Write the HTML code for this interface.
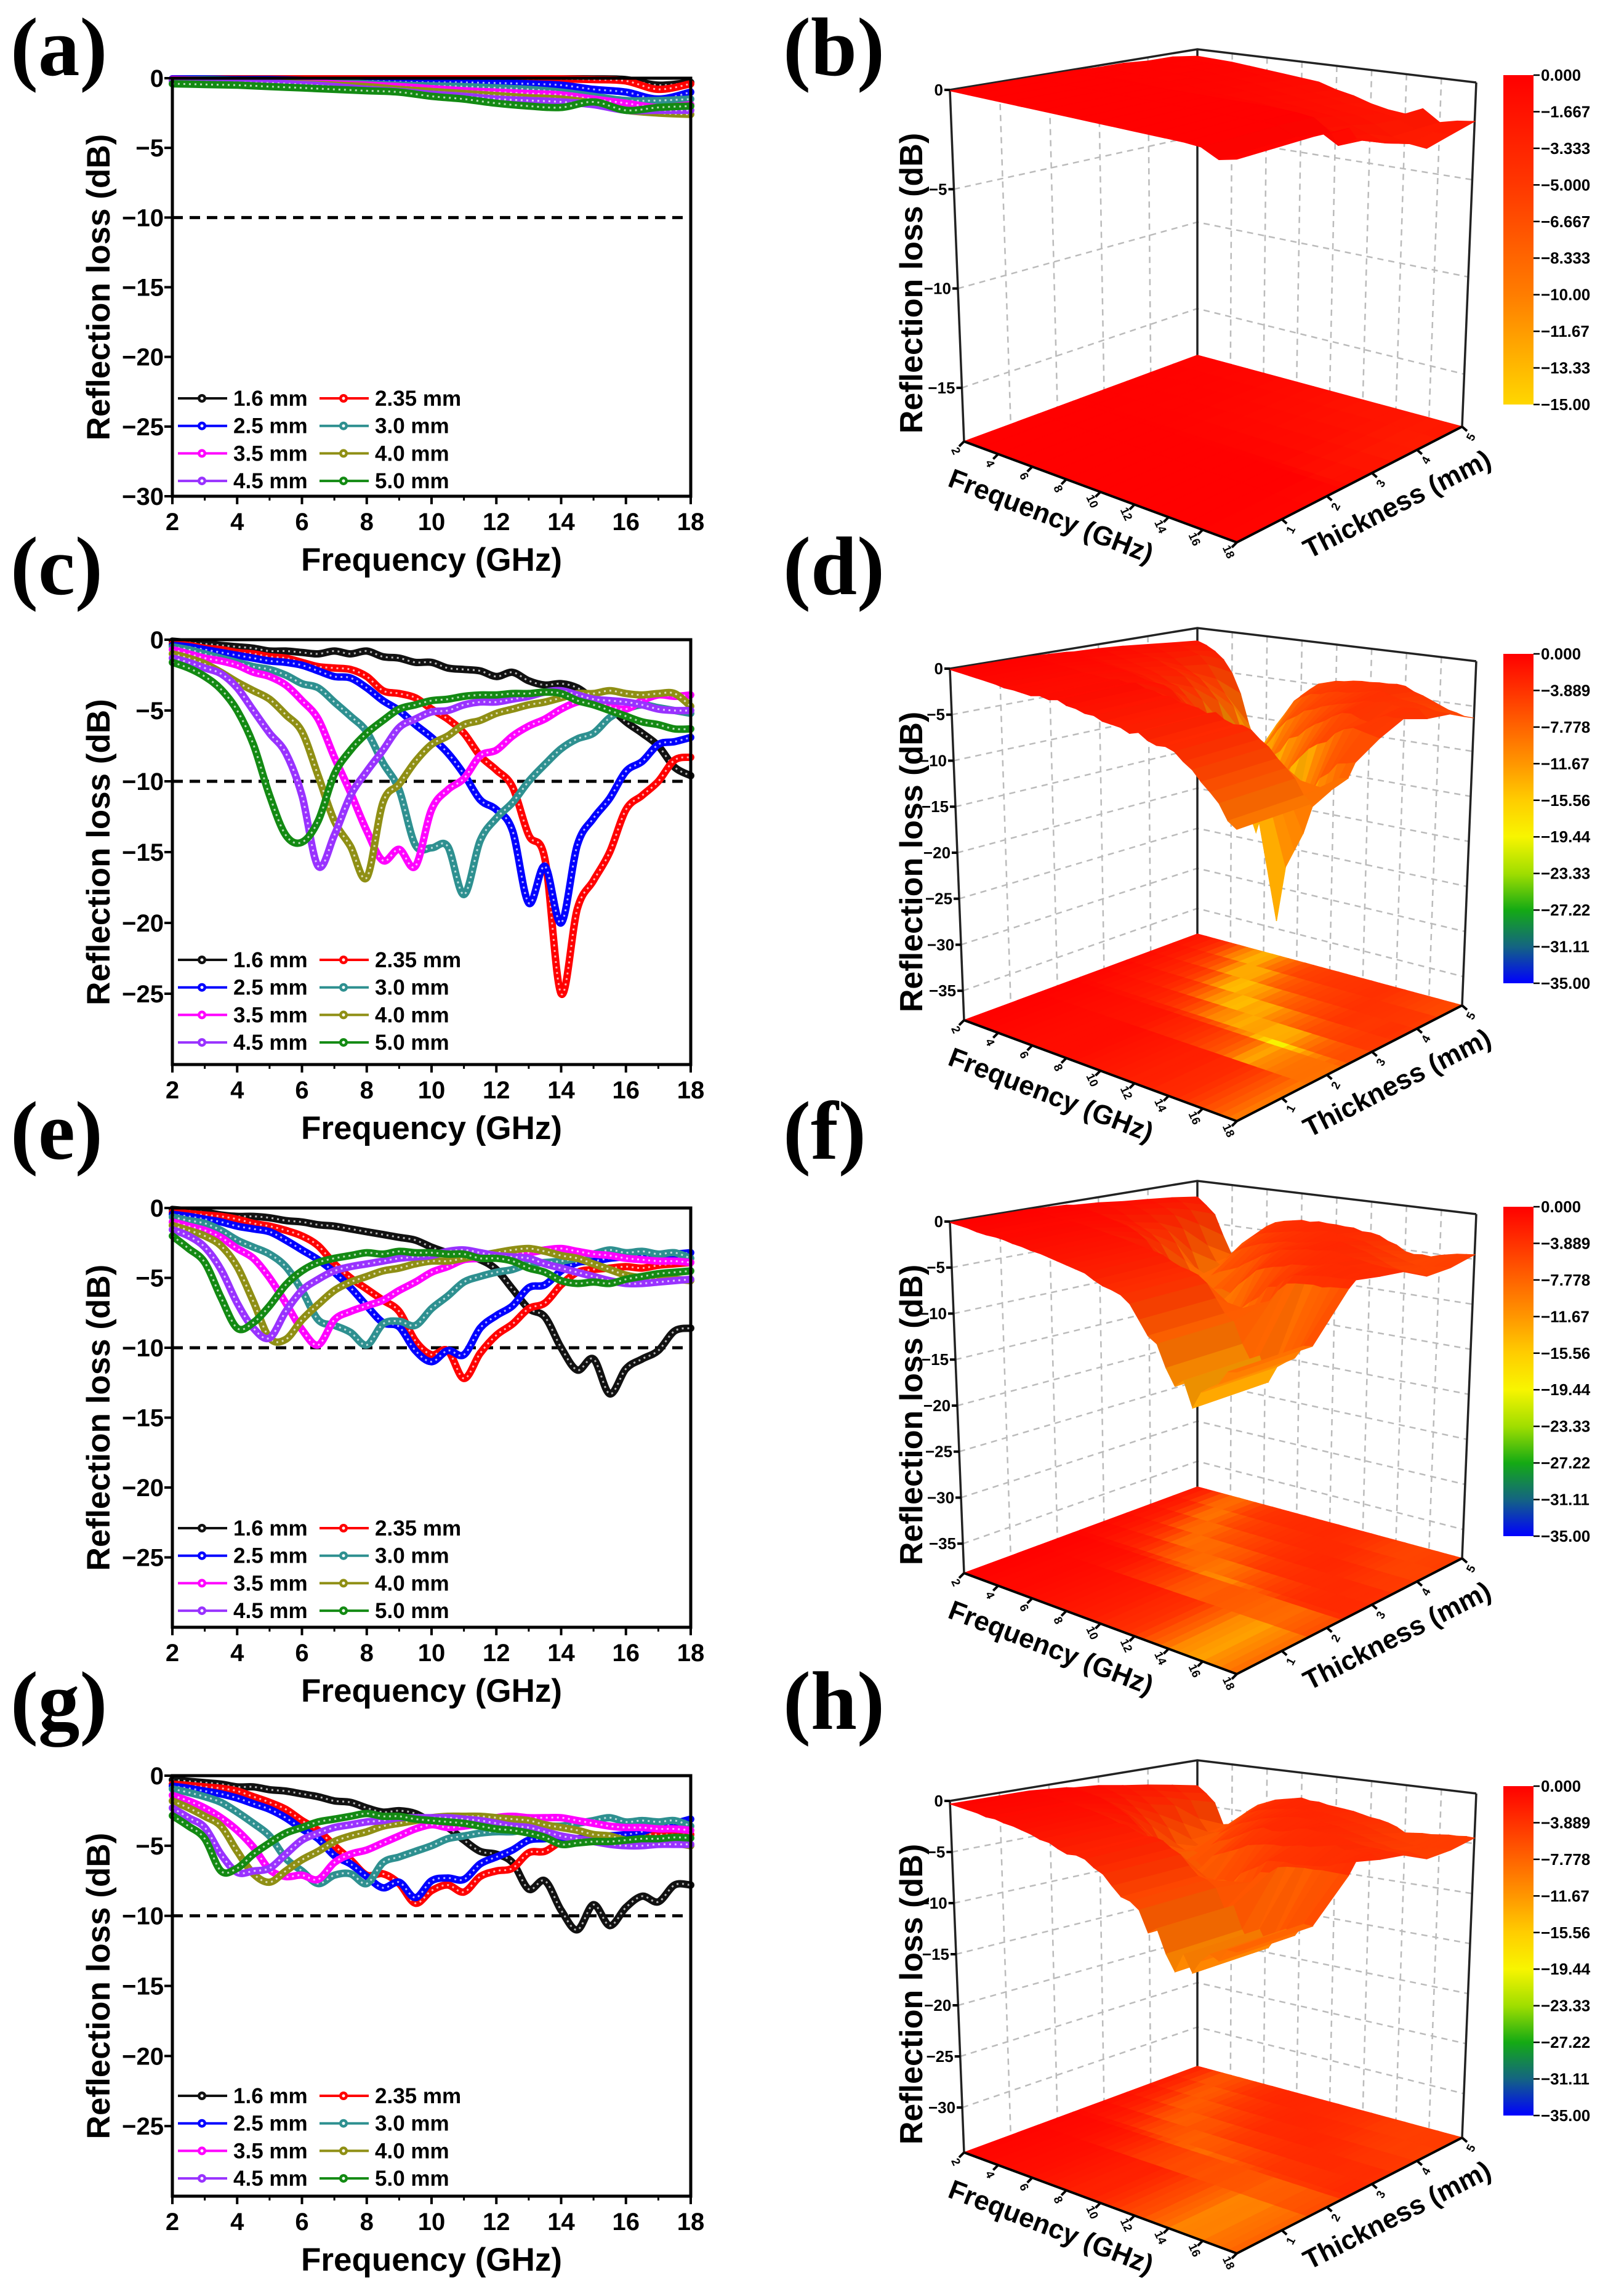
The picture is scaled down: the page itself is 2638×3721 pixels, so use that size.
<!DOCTYPE html>
<html><head><meta charset="utf-8"><title>Reflection loss</title>
<style>
html,body{margin:0;padding:0;background:#fff;}
svg{display:block;}
text{font-family:"Liberation Sans",Arial,sans-serif;font-weight:bold;fill:#000;}
.plab{font-family:"Liberation Serif","Times New Roman",serif;font-size:135px;font-weight:bold;}
</style></head>
<body>
<svg id="fig" width="2638" height="3721" viewBox="0 0 2638 3721">
<rect x="0" y="0" width="2638" height="3721" fill="#fff"/>
<text class="plab" x="17" y="122">(a)</text>
<text class="plab" x="1272" y="122">(b)</text>
<text class="plab" x="17" y="965">(c)</text>
<text class="plab" x="1272" y="965">(d)</text>
<text class="plab" x="17" y="1882">(e)</text>
<text class="plab" x="1272" y="1882">(f)</text>
<text class="plab" x="17" y="2808">(g)</text>
<text class="plab" x="1272" y="2808">(h)</text>
</svg>
<script>
const freqsHalf = [2,2.5,3,3.5,4,4.5,5,5.5,6,6.5,7,7.5,8,8.5,9,9.5,10,10.5,11,11.5,12,12.5,13,13.5,14,14.5,15,15.5,16,16.5,17,17.5,18];
const freqsWhole = [2,3,4,5,6,7,8,9,10,11,12,13,14,15,16,17,18];
const thicknessLabels = ['1.6 mm','2.35 mm','2.5 mm','3.0 mm','3.5 mm','4.0 mm','4.5 mm','5.0 mm'];
const thicknessValues = [1.6,2.35,2.5,3.0,3.5,4.0,4.5,5.0];
const seriesColors = ['#111111','#ff0000','#0000ff','#2e9090','#ff00ff','#8f8f14','#9932ff','#138a13'];
const xTicks = [2,4,6,8,10,12,14,16,18];
const xMinorTicks = [3,5,7,9,11,13,15,17];
const yTicksA = [0,-5,-10,-15,-20,-25,-30];
const yTicksCEG = [0,-5,-10,-15,-20,-25];
const cbLabels15 = ['0.000','\u22121.667','\u22123.333','\u22125.000','\u22126.667','\u22128.333','\u221210.00','\u221211.67','\u221213.33','\u221215.00'];
const cbLabels35 = ['0.000','\u22123.889','\u22127.778','\u221211.67','\u221215.56','\u221219.44','\u221223.33','\u221227.22','\u221231.11','\u221235.00'];

// panel (a) — 1 GHz steps
const a16  = [-0.05,-0.05,-0.05,-0.05,-0.05,-0.05,-0.05,-0.05,-0.05,-0.05,-0.05,-0.05,-0.05,-0.05,-0.1,-0.5,-0.3];
const a235 = [-0.05,-0.05,-0.05,-0.05,-0.05,-0.05,-0.05,-0.05,-0.05,-0.05,-0.05,-0.05,-0.05,-0.1,-0.2,-0.8,-0.4];
const a25  = [-0.05,-0.05,-0.1,-0.1,-0.15,-0.2,-0.2,-0.25,-0.3,-0.3,-0.35,-0.4,-0.5,-0.8,-1.0,-1.5,-1.0];
const a30  = [-0.1,-0.1,-0.15,-0.2,-0.25,-0.3,-0.4,-0.5,-0.55,-0.6,-0.7,-0.8,-1.0,-1.3,-1.6,-1.6,-1.5];
const a35  = [-0.1,-0.15,-0.2,-0.25,-0.3,-0.4,-0.5,-0.6,-0.75,-0.9,-1.0,-1.1,-1.2,-1.5,-1.8,-2.1,-1.9];
const a40  = [-0.2,-0.2,-0.25,-0.3,-0.4,-0.5,-0.6,-0.8,-0.95,-1.1,-1.25,-1.4,-1.5,-1.8,-2.3,-2.5,-2.6];
const a45  = [-0.2,-0.25,-0.3,-0.35,-0.45,-0.6,-0.8,-0.95,-1.15,-1.3,-1.5,-1.6,-1.7,-1.9,-2.3,-2.3,-2.3];
const a50  = [-0.4,-0.45,-0.5,-0.6,-0.7,-0.8,-0.9,-1.0,-1.3,-1.5,-1.8,-2.0,-2.1,-1.7,-2.3,-2.1,-2.0];

// panel (c)
const c16  = [-0.1,-0.2,-0.3,-0.4,-0.5,-0.6,-0.8,-0.8,-0.9,-1.0,-0.8,-1.0,-0.8,-1.2,-1.3,-1.6,-1.6,-2.0,-2.1,-2.2,-2.6,-2.3,-2.9,-3.2,-3.1,-3.4,-4.2,-4.8,-5.8,-6.6,-7.5,-9.0,-9.6];
const c235 = [-0.3,-0.4,-0.6,-0.7,-0.9,-1.0,-1.2,-1.3,-1.6,-1.9,-2.0,-2.1,-2.6,-3.6,-3.8,-4.1,-4.9,-5.6,-6.6,-8.2,-9.2,-10.4,-13.8,-15.5,-25.0,-19.0,-17.0,-15.0,-12.0,-11.0,-10.0,-8.5,-8.3];
const c25  = [-0.4,-0.5,-0.7,-0.9,-1.1,-1.3,-1.5,-1.6,-1.8,-2.2,-2.6,-2.7,-3.4,-4.3,-5.0,-6.0,-6.9,-8.0,-9.5,-11.3,-12.0,-13.5,-18.6,-16.0,-20.0,-14.5,-12.6,-11.2,-9.3,-8.6,-7.4,-7.2,-6.9];
const c30  = [-0.5,-0.7,-1.0,-1.3,-1.6,-1.9,-2.1,-2.5,-3.1,-3.4,-4.4,-5.4,-6.5,-8.7,-10.6,-14.5,-14.7,-14.6,-18.0,-14.2,-12.6,-11.5,-10.0,-8.8,-7.7,-7.0,-6.6,-5.5,-4.9,-4.6,-4.8,-5.0,-5.2];
const c35  = [-0.7,-1.0,-1.3,-1.5,-1.8,-2.3,-2.6,-3.2,-4.3,-5.6,-8.3,-10.8,-13.5,-15.6,-14.8,-16.0,-12.0,-10.6,-9.8,-8.2,-7.8,-6.8,-6.1,-5.6,-4.9,-4.4,-4.3,-4.7,-4.9,-4.3,-3.9,-4.0,-3.9];
const c40  = [-1.0,-1.3,-1.7,-2.3,-3.0,-3.6,-4.2,-5.3,-6.5,-9.6,-12.8,-14.6,-16.8,-11.5,-10.2,-8.6,-7.4,-6.8,-6.0,-5.7,-5.2,-4.9,-4.6,-4.4,-4.1,-3.8,-3.8,-3.6,-3.8,-3.9,-3.8,-3.8,-4.7];
const c45  = [-1.3,-1.6,-2.0,-2.4,-3.4,-5.0,-6.6,-8.0,-11.0,-16.0,-13.8,-11.0,-9.3,-7.8,-6.2,-5.6,-5.1,-5.0,-4.6,-4.4,-4.4,-4.2,-4.0,-3.7,-3.6,-3.9,-4.2,-4.3,-4.4,-4.6,-4.9,-5.0,-5.0];
const c50  = [-1.6,-2.0,-2.6,-3.5,-5.0,-7.4,-11.0,-13.8,-14.3,-12.8,-9.5,-7.8,-6.6,-5.7,-4.9,-4.6,-4.3,-4.2,-4.0,-3.9,-3.9,-3.8,-3.8,-3.7,-3.8,-4.3,-4.6,-5.0,-5.4,-5.8,-6.0,-6.3,-6.3];

// panel (e)
const e16  = [-0.1,-0.2,-0.3,-0.5,-0.6,-0.6,-0.7,-0.9,-1.0,-1.2,-1.3,-1.5,-1.7,-1.9,-2.1,-2.3,-2.8,-3.2,-3.4,-3.7,-4.4,-5.8,-7.2,-7.8,-10.0,-11.6,-10.8,-13.3,-11.5,-10.8,-10.2,-8.8,-8.6];
const e235 = [-0.3,-0.4,-0.5,-0.6,-0.8,-1.1,-1.3,-1.6,-2.0,-2.7,-4.0,-5.0,-5.8,-6.6,-7.4,-9.5,-10.5,-10.2,-12.2,-10.4,-9.1,-8.3,-7.2,-6.8,-5.5,-4.6,-4.4,-4.3,-4.2,-4.3,-4.1,-4.0,-3.9];
const e25  = [-0.45,-0.6,-0.8,-1.0,-1.3,-1.5,-1.7,-2.3,-3.0,-3.7,-4.6,-5.7,-7.0,-8.2,-8.5,-10.2,-11.0,-10.2,-10.5,-8.6,-7.7,-7.0,-5.7,-5.5,-4.5,-3.9,-3.8,-3.6,-3.5,-3.4,-3.4,-3.3,-3.2];
const e30  = [-0.65,-0.9,-1.1,-1.6,-2.3,-2.8,-3.3,-4.2,-5.9,-8.0,-8.4,-8.9,-9.8,-8.3,-8.1,-8.4,-7.2,-6.3,-5.3,-4.9,-4.6,-4.4,-4.0,-3.9,-3.8,-3.6,-3.3,-3.0,-3.2,-3.1,-3.3,-3.2,-3.6];
const e35  = [-1.0,-1.3,-1.6,-2.1,-2.9,-3.6,-5.0,-6.8,-8.7,-9.8,-8.0,-7.4,-7.0,-6.6,-5.9,-5.3,-4.6,-4.2,-3.7,-3.6,-3.4,-3.2,-3.2,-3.0,-2.9,-3.1,-3.3,-3.4,-3.6,-3.7,-3.8,-3.8,-3.9];
const e40  = [-1.25,-1.6,-2.0,-2.7,-4.2,-6.7,-9.3,-9.4,-8.0,-6.9,-5.9,-5.3,-4.9,-4.5,-4.3,-4.0,-3.8,-3.8,-3.6,-3.4,-3.2,-3.0,-2.9,-3.1,-3.4,-3.6,-4.0,-4.4,-4.8,-5.0,-5.1,-5.1,-5.2];
const e45  = [-1.55,-2.0,-2.8,-4.4,-6.8,-8.6,-9.3,-7.4,-5.9,-5.1,-4.5,-4.2,-4.0,-3.8,-3.6,-3.5,-3.4,-3.1,-3.0,-3.2,-3.4,-3.5,-3.6,-4.0,-4.3,-4.6,-4.9,-5.2,-5.4,-5.4,-5.3,-5.2,-5.1];
const e50  = [-2.0,-2.9,-3.9,-6.4,-8.6,-8.2,-7.0,-5.5,-4.5,-3.9,-3.6,-3.4,-3.2,-3.3,-3.1,-3.2,-3.2,-3.3,-3.3,-3.6,-3.6,-3.8,-4.3,-4.6,-5.2,-5.4,-5.3,-5.4,-5.1,-4.9,-4.7,-4.6,-4.5];

// panel (g)
const g16  = [-0.3,-0.4,-0.5,-0.6,-0.8,-0.8,-1.0,-1.1,-1.3,-1.5,-1.8,-1.9,-2.3,-2.6,-2.5,-2.7,-3.3,-3.7,-4.6,-5.4,-5.6,-6.2,-8.1,-7.5,-9.6,-11.0,-9.2,-10.7,-9.4,-8.6,-9.0,-7.8,-7.8];
const g235 = [-0.6,-0.7,-0.8,-0.9,-1.1,-1.5,-1.9,-2.4,-3.2,-3.9,-5.0,-6.0,-7.1,-7.0,-7.7,-9.1,-8.2,-7.8,-8.3,-7.2,-6.8,-6.6,-5.5,-5.4,-4.7,-4.5,-4.4,-4.3,-4.3,-4.2,-4.2,-4.2,-4.2];
const g25  = [-0.75,-0.9,-1.1,-1.3,-1.6,-2.0,-2.4,-3.0,-3.8,-4.5,-5.7,-6.3,-7.2,-8.0,-7.6,-8.7,-7.5,-7.3,-7.4,-6.3,-5.8,-5.3,-4.6,-4.5,-4.4,-4.5,-4.4,-4.3,-4.2,-4.0,-3.6,-3.4,-3.1];
const g30  = [-0.95,-1.2,-1.5,-1.9,-2.6,-3.4,-4.3,-5.9,-6.8,-7.7,-7.1,-7.0,-7.7,-6.2,-5.8,-5.4,-5.0,-4.5,-4.3,-4.1,-4.0,-4.0,-3.8,-3.6,-3.6,-3.4,-3.2,-3.0,-3.3,-3.2,-3.3,-3.2,-3.6];
const g35  = [-1.4,-1.8,-2.3,-3.0,-3.9,-5.1,-6.7,-7.2,-7.1,-7.4,-6.2,-5.6,-5.3,-4.8,-4.3,-3.8,-3.5,-3.7,-3.6,-3.4,-3.0,-2.9,-3.0,-3.0,-3.0,-3.2,-3.4,-3.6,-3.7,-3.7,-3.8,-3.8,-3.9];
const g40  = [-1.8,-2.3,-2.9,-3.6,-5.4,-7.0,-7.6,-6.8,-6.0,-5.4,-4.7,-4.3,-4.0,-3.6,-3.4,-3.2,-3.0,-2.9,-2.9,-2.9,-3.0,-3.1,-3.2,-3.5,-3.7,-3.9,-4.2,-4.3,-4.6,-4.6,-4.6,-4.8,-5.0];
const g45  = [-2.3,-3.0,-3.7,-5.6,-6.9,-6.8,-6.6,-5.6,-4.6,-4.1,-3.7,-3.5,-3.3,-3.2,-3.0,-3.0,-3.0,-3.0,-3.1,-3.2,-3.4,-3.6,-3.7,-4.0,-4.3,-4.5,-4.7,-4.9,-5.0,-5.0,-4.9,-4.9,-4.9];
const g50  = [-2.85,-3.6,-4.5,-6.8,-6.6,-5.6,-4.8,-4.1,-3.7,-3.3,-3.1,-2.9,-2.7,-2.9,-2.9,-3.1,-3.2,-3.3,-3.4,-3.6,-3.8,-3.9,-4.1,-4.4,-4.9,-4.8,-4.7,-4.7,-4.6,-4.5,-4.5,-4.4,-4.45];

const panelASeries = [a16,a235,a25,a30,a35,a40,a45,a50];
const panelCSeries = [c16,c235,c25,c30,c35,c40,c45,c50];
const panelESeries = [e16,e235,e25,e30,e35,e40,e45,e50];
const panelGSeries = [g16,g235,g25,g30,g35,g40,g45,g50];

const NS = 'http://www.w3.org/2000/svg';
const svg = document.getElementById('fig');
function mk(tag, parent, attrs){const e=document.createElementNS(NS,tag);for(const k in attrs)e.setAttribute(k,attrs[k]);parent.appendChild(e);return e;}
function fmt(v){return v<0?'\u2212'+Math.abs(v):String(v);}
function smooth(pts){
  let d='M'+pts[0][0].toFixed(1)+','+pts[0][1].toFixed(1);
  for(let i=0;i<pts.length-1;i++){
    const p0=pts[Math.max(0,i-1)],p1=pts[i],p2=pts[i+1],p3=pts[Math.min(pts.length-1,i+2)];
    const c1=[p1[0]+(p2[0]-p0[0])/6,p1[1]+(p2[1]-p0[1])/6],c2=[p2[0]-(p3[0]-p1[0])/6,p2[1]-(p3[1]-p1[1])/6];
    d+='C'+c1[0].toFixed(1)+','+c1[1].toFixed(1)+' '+c2[0].toFixed(1)+','+c2[1].toFixed(1)+' '+p2[0].toFixed(1)+','+p2[1].toFixed(1);
  }
  return d;
}

function draw2D(cfg){
  const g=mk('g',svg,{});
  
  
  const X=f=>cfg.x0+(f-2)/16*(cfg.x1-cfg.x0);
  const Y=v=>cfg.y0+(v/cfg.ymin)*(cfg.y1-cfg.y0);
  const dl=mk('line',g,{x1:cfg.x0,x2:cfg.x1,y1:Y(-10),y2:Y(-10),stroke:'#000','stroke-width':5,'stroke-dasharray':'17 11'});
  
  
  cfg.series.forEach((vals,si)=>{
    const pts=vals.map((v,i)=>[X(cfg.freqs[i]),Y(v)]);
    const d=smooth(pts);
    const p=mk('path',g,{d:d,fill:'none',stroke:seriesColors[si],'stroke-width':12,'stroke-linejoin':'round','stroke-linecap':'round'});
    
    
    const m=mk('path',g,{d:d,fill:'none',stroke:'#fff','stroke-opacity':0.7,'stroke-width':3,'stroke-dasharray':'3 6'});
    
    
  });
  const fr=mk('rect',g,{x:cfg.x0,y:cfg.y0,width:cfg.x1-cfg.x0,height:cfg.y1-cfg.y0,fill:'none',stroke:'#000','stroke-width':5});
  
  
  cfg.yticks.forEach(v=>{
    const t=mk('line',g,{x1:cfg.x0-13,x2:cfg.x0,y1:Y(v),y2:Y(v),stroke:'#000','stroke-width':4});
    
    
    const l=mk('text',g,{x:cfg.x0-14,y:Y(v)+14,'text-anchor':'end','font-size':40});
    l.textContent=fmt(v);
    
    
  });
  xTicks.forEach(f=>{
    const t=mk('line',g,{x1:X(f),x2:X(f),y1:cfg.y1,y2:cfg.y1+13,stroke:'#000','stroke-width':4});
    
    
    const l=mk('text',g,{x:X(f),y:cfg.y1+55,'text-anchor':'middle','font-size':40});
    l.textContent=String(f);
    
    
  });
  xMinorTicks.forEach(f=>{
    const t=mk('line',g,{x1:X(f),x2:X(f),y1:cfg.y1,y2:cfg.y1+7,stroke:'#000','stroke-width':3});
    
    
  });
  const xt=mk('text',g,{x:(cfg.x0+cfg.x1)/2,y:cfg.y1+121,'text-anchor':'middle','font-size':53});
  xt.textContent='Frequency (GHz)';
  
  
  const ym=(cfg.y0+cfg.y1)/2;
  const yt=mk('text',g,{x:0,y:0,'text-anchor':'middle','font-size':53,transform:'translate(178,'+ym+') rotate(-90)'});
  yt.textContent='Reflection loss (dB)';
  
  
  thicknessLabels.forEach((lab,i)=>{
    const col=i%2,row=Math.floor(i/2);
    const cy=cfg.y0+520+44.7*row;
    const lx=col?519:289;
    const lg=mk('g',g,{});
    
    
    mk('line',lg,{x1:lx,x2:lx+80,y1:cy,y2:cy,stroke:seriesColors[i],'stroke-width':4});
    mk('circle',lg,{cx:lx+39,cy:cy,r:7,fill:seriesColors[i]});
    mk('circle',lg,{cx:lx+39,cy:cy,r:2.5,fill:'#fff'});
    const t=mk('text',lg,{x:lx+90,y:cy+12,'font-size':35});
    t.textContent=lab;
  });
}

draw2D({name:'panel-a-chart',x0:280,x1:1122,y0:127,y1:806,ymin:-30,yticks:yTicksA,freqs:freqsWhole,series:panelASeries});
draw2D({name:'panel-c-chart',x0:280,x1:1122,y0:1039,y1:1729,ymin:-30,yticks:yTicksCEG,freqs:freqsHalf,series:panelCSeries});
draw2D({name:'panel-e-chart',x0:280,x1:1122,y0:1962,y1:2643,ymin:-30,yticks:yTicksCEG,freqs:freqsHalf,series:panelESeries});
draw2D({name:'panel-g-chart',x0:280,x1:1122,y0:2884,y1:3567,ymin:-30,yticks:yTicksCEG,freqs:freqsHalf,series:panelGSeries});

// ---------- 3D panels ----------
const stops35=[[0,[255,0,0]],[-3.889,[255,50,0]],[-7.778,[255,100,0]],[-11.67,[255,150,0]],[-15.56,[255,205,0]],[-19.44,[248,245,0]],[-23.33,[160,222,0]],[-27.22,[20,170,20]],[-31.11,[20,100,130]],[-35,[0,0,255]]];
const stops15=[[0,[255,0,0]],[-5,[255,55,0]],[-10,[255,125,0]],[-15,[255,215,0]]];
function cmap(v,stops,shade){
  let c=stops[stops.length-1][1];
  if(v>=0)c=stops[0][1];
  for(let i=0;i<stops.length-1;i++){
    const a=stops[i],b=stops[i+1];
    if(v<=a[0]&&v>=b[0]){const t=(v-a[0])/(b[0]-a[0]);c=[0,1,2].map(k=>a[1][k]+(b[1][k]-a[1][k])*t);break;}
  }
  return 'rgb('+c.map(x=>Math.round(Math.max(0,Math.min(255,x*shade)))).join(',')+')';
}
function draw3D(cfg){
  const dy=cfg.dy;
  const L=[1566,1657+dy],F=[2009,1821+dy],R=[2375,1633+dy],B=[1945,1517+dy];
  const upL=[-23,-571],upF=[0,-633],upR=[23,-559],upB=[0,-497];
  const tmin=0,tmax=5;
  function bil(a,b,c,d,u,v){return [0,1].map(k=>a[k]*(1-u)*(1-v)+b[k]*u*(1-v)+c[k]*u*v+d[k]*(1-u)*v);}
  function P(f,t,z){
    const u=(f-2)/16,v=(t-tmin)/(tmax-tmin);
    const base=bil(L,F,R,B,u,v),up=bil(upL,upF,upR,upB,u,v);
    const w=1-z/cfg.zmin;
    return [base[0]+w*up[0],base[1]+w*up[1]];
  }
  const g=mk('g',svg,{});
  
  
  const pstr=pts=>pts.map(p=>p[0].toFixed(1)+','+p[1].toFixed(1)).join(' ');
  const grid=mk('g',g,{stroke:'#bbb','stroke-width':2.5,'stroke-dasharray':'10 8',fill:'none'});
  
  
  cfg.zticks.forEach(z=>{mk('polyline',grid,{points:pstr([P(2,tmin,z),P(2,tmax,z),P(18,tmax,z)])});});
  [1,2,3,4].forEach(t=>{mk('line',grid,{x1:P(2,t,0)[0],y1:P(2,t,0)[1],x2:P(2,t,cfg.zmin)[0],y2:P(2,t,cfg.zmin)[1]});});
  [4,6,8,10,12,14,16].forEach(f=>{mk('line',grid,{x1:P(f,tmax,0)[0],y1:P(f,tmax,0)[1],x2:P(f,tmax,cfg.zmin)[0],y2:P(f,tmax,cfg.zmin)[1]});});
  const frame=mk('g',g,{stroke:'#222','stroke-width':3.5,fill:'none'});
  
  
  mk('polyline',frame,{points:pstr([P(2,tmin,0),P(2,tmax,0),P(18,tmax,0)])});
  [[2,tmin],[2,tmax],[18,tmax]].forEach(c=>{mk('line',frame,{x1:P(c[0],c[1],0)[0],y1:P(c[0],c[1],0)[1],x2:P(c[0],c[1],cfg.zmin)[0],y2:P(c[0],c[1],cfg.zmin)[1]});});
  const rowsT=[tmin].concat(thicknessValues);
  const rowsV=[cfg.series[0]].concat(cfg.series);
  const fr=cfg.freqs;
  const floor=mk('g',g,{});
  
  
  for(let r=0;r<rowsT.length-1;r++)for(let i=0;i<fr.length-1;i++){
    const v=(rowsV[r][i]+rowsV[r][i+1]+rowsV[r+1][i]+rowsV[r+1][i+1])/4;
    const col=cmap(v,cfg.stops,1);
    mk('polygon',floor,{points:pstr([P(fr[i],rowsT[r],cfg.zmin),P(fr[i+1],rowsT[r],cfg.zmin),P(fr[i+1],rowsT[r+1],cfg.zmin),P(fr[i],rowsT[r+1],cfg.zmin)]),fill:col,stroke:col,'stroke-width':1.5});
  }
  const quads=[];
  for(let r=0;r<rowsT.length-1;r++)for(let i=0;i<fr.length-1;i++){
    const u=(fr[i]-2)/16,vv=(rowsT[r]-tmin)/(tmax-tmin);
    quads.push({r:r,i:i,key:u-vv});
  }
  quads.sort((a,b)=>a.key-b.key);
  const surf=mk('g',g,{});
  
  
  quads.forEach(q=>{
    const r=q.r,i=q.i;
    const v00=rowsV[r][i],v01=rowsV[r][i+1],v10=rowsV[r+1][i],v11=rowsV[r+1][i+1];
    const v=(v00+v01+v10+v11)/4;
    const slope=((v01+v11)-(v00+v10))/2;
    const shade=1-Math.min(0.18,Math.max(-0.05,-slope*0.03));
    const col=cmap(v,cfg.stops,shade);
    mk('polygon',surf,{points:pstr([P(fr[i],rowsT[r],v00),P(fr[i+1],rowsT[r],v01),P(fr[i+1],rowsT[r+1],v11),P(fr[i],rowsT[r+1],v10)]),fill:col,stroke:col,'stroke-width':1.2});
  });
  const ax=mk('g',g,{stroke:'#000','stroke-width':4,fill:'none'});
  
  
  mk('polyline',ax,{points:pstr([P(2,tmin,cfg.zmin),P(18,tmin,cfg.zmin),P(18,tmax,cfg.zmin)])});
  xTicks.forEach(f=>{
    const p=P(f,tmin,cfg.zmin);
    mk('line',ax,{x1:p[0],y1:p[1],x2:p[0]-8,y2:p[1]+8});
    const l=mk('text',g,{x:0,y:0,'font-size':19,'text-anchor':'middle',transform:'translate('+(p[0]-19)+','+(p[1]+18)+') rotate(65)'});
    l.textContent=String(f);
    
    
  });
  [1,2,3,4,5].forEach(t=>{
    const p=P(18,t,cfg.zmin);
    mk('line',ax,{x1:p[0],y1:p[1],x2:p[0]+8,y2:p[1]+7});
    const l=mk('text',g,{x:0,y:0,'font-size':19,'text-anchor':'middle',transform:'translate('+(p[0]+20)+','+(p[1]+20)+') rotate(-62)'});
    l.textContent=String(t);
    
    
  });
  cfg.zticks.forEach(z=>{
    const p=P(2,tmin,z);
    mk('line',ax,{x1:p[0],y1:p[1],x2:p[0]-9,y2:p[1]});
    const l=mk('text',g,{x:p[0]-11,y:p[1]+9,'font-size':26,'text-anchor':'end'});
    l.textContent=fmt(z);
    
    
  });
  const fa=mk('text',g,{x:0,y:0,'font-size':44,'text-anchor':'middle',transform:'translate(1702,'+(1792+dy)+') rotate(21)'});
  fa.textContent='Frequency (GHz)';
  
  
  const ta=mk('text',g,{x:0,y:0,'font-size':44,'text-anchor':'middle',transform:'translate(2276,'+(1772+dy)+') rotate(-27)'});
  ta.textContent='Thickness (mm)';
  
  
  const za=mk('text',g,{x:0,y:0,'font-size':52,'text-anchor':'middle',transform:'translate(1498,'+(1400+dy)+') rotate(-90)'});
  za.textContent='Reflection loss (dB)';
  
  
  const cy0=1062+dy,cy1=1597+dy;
  const gid='cb'+cfg.name;
  const defs=mk('defs',g,{});
  const lg=mk('linearGradient',defs,{id:gid,x1:0,y1:0,x2:0,y2:1});
  cfg.stops.forEach(s=>{mk('stop',lg,{offset:(s[0]/cfg.stops[cfg.stops.length-1][0]).toFixed(3),'stop-color':'rgb('+s[1].join(',')+')'});});
  const cb=mk('rect',g,{x:2442,y:cy0,width:49,height:cy1-cy0,fill:'url(#'+gid+')'});
  
  
  cfg.cbLabels.forEach((s,i)=>{
    const y=cy0+(cy1-cy0)*i/(cfg.cbLabels.length-1);
    mk('line',g,{x1:2491,x2:2501,y1:y,y2:y,stroke:'#000','stroke-width':2.5});
    const l=mk('text',g,{x:2503,y:y+9,'font-size':26});
    l.textContent=s;
    
    
  });
}
draw3D({name:'panel-b-surface',dy:-940,zmin:-17.7,zticks:[0,-5,-10,-15],stops:stops15,cbLabels:cbLabels15,series:panelASeries,freqs:freqsWhole});
draw3D({name:'panel-d-surface',dy:0,zmin:-38.2,zticks:[0,-5,-10,-15,-20,-25,-30,-35],stops:stops35,cbLabels:cbLabels35,series:panelCSeries,freqs:freqsHalf});
draw3D({name:'panel-f-surface',dy:898,zmin:-38.2,zticks:[0,-5,-10,-15,-20,-25,-30,-35],stops:stops35,cbLabels:cbLabels35,series:panelESeries,freqs:freqsHalf});
draw3D({name:'panel-h-surface',dy:1839,zmin:-34.4,zticks:[0,-5,-10,-15,-20,-25,-30],stops:stops35,cbLabels:cbLabels35,series:panelGSeries,freqs:freqsHalf});
</script>
</body></html>
